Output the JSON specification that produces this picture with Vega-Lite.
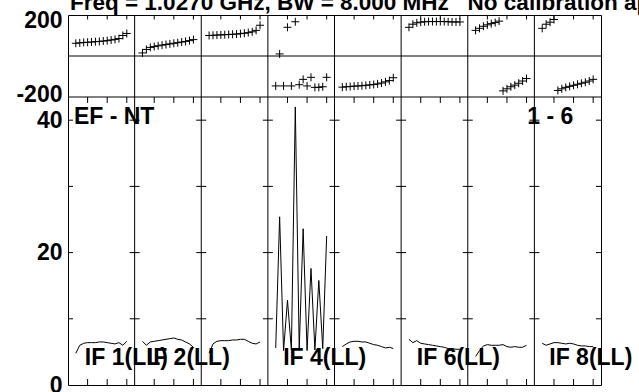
{
  "$schema": "https://vega.github.io/schema/vega-lite/v6.json",
  "width": 533,
  "height": 370,
  "autosize": {"type": "none"},
  "padding": {"left": 68, "top": 15, "right": 38, "bottom": 7},
  "background": "white",
  "config": {
    "view": {"stroke": "black", "strokeWidth": 1},
    "font": "Liberation Sans"
  },
  "datasets": {
    "main": [
      {"i":1,"x":2,"p":62,"a":4.8},{"i":1,"x":3,"p":64,"a":6.0},{"i":1,"x":4,"p":66,"a":6.3},{"i":1,"x":5,"p":67,"a":6.4},{"i":1,"x":6,"p":68,"a":6.4},{"i":1,"x":7,"p":70,"a":6.4},{"i":1,"x":8,"p":71,"a":6.5},{"i":1,"x":9,"p":73,"a":6.5},{"i":1,"x":10,"p":75,"a":6.4},{"i":1,"x":11,"p":78,"a":6.3},{"i":1,"x":12,"p":81,"a":6.2},{"i":1,"x":13,"p":85,"a":6.4},{"i":1,"x":14,"p":100,"a":6.0},{"i":1,"x":15,"p":110,"a":6.6},
      {"i":2,"x":19,"p":15,"a":6.6},{"i":2,"x":20,"p":32,"a":6.0},{"i":2,"x":21,"p":42,"a":6.5},{"i":2,"x":22,"p":46,"a":6.6},{"i":2,"x":23,"p":50,"a":6.7},{"i":2,"x":24,"p":53,"a":6.8},{"i":2,"x":25,"p":56,"a":6.9},{"i":2,"x":26,"p":59,"a":7.0},{"i":2,"x":27,"p":62,"a":7.1},{"i":2,"x":28,"p":65,"a":6.9},{"i":2,"x":29,"p":68,"a":6.8},{"i":2,"x":30,"p":71,"a":6.5},{"i":2,"x":31,"p":75,"a":6.2},{"i":2,"x":32,"p":80,"a":5.7},
      {"i":3,"x":36,"p":100,"a":4.8},{"i":3,"x":37,"p":101,"a":6.2},{"i":3,"x":38,"p":102,"a":6.6},{"i":3,"x":39,"p":103,"a":6.7},{"i":3,"x":40,"p":104,"a":6.7},{"i":3,"x":41,"p":105,"a":6.7},{"i":3,"x":42,"p":106,"a":6.8},{"i":3,"x":43,"p":107,"a":6.8},{"i":3,"x":44,"p":109,"a":6.9},{"i":3,"x":45,"p":111,"a":6.9},{"i":3,"x":46,"p":114,"a":6.6},{"i":3,"x":47,"p":118,"a":6.3},{"i":3,"x":48,"p":125,"a":6.2},{"i":3,"x":49,"p":150,"a":6.5},
      {"i":4,"x":53,"p":-146,"a":5.6},{"i":4,"x":54,"p":10,"a":25.4},{"i":4,"x":55,"p":-146,"a":5.2},{"i":4,"x":56,"p":140,"a":12.8},{"i":4,"x":57,"p":-146,"a":5.3},{"i":4,"x":58,"p":167,"a":42.0},{"i":4,"x":59,"p":-140,"a":5.4},{"i":4,"x":60,"p":-114,"a":23.6},{"i":4,"x":61,"p":-146,"a":5.2},{"i":4,"x":62,"p":-104,"a":17.6},{"i":4,"x":63,"p":-153,"a":5.3},{"i":4,"x":64,"p":-153,"a":15.8},{"i":4,"x":65,"p":-150,"a":5.5},{"i":4,"x":66,"p":-104,"a":22.5},
      {"i":5,"x":70,"p":-152,"a":5.8},{"i":5,"x":71,"p":-150,"a":6.2},{"i":5,"x":72,"p":-149,"a":6.5},{"i":5,"x":73,"p":-147,"a":6.6},{"i":5,"x":74,"p":-146,"a":6.6},{"i":5,"x":75,"p":-145,"a":6.5},{"i":5,"x":76,"p":-143,"a":6.5},{"i":5,"x":77,"p":-141,"a":6.3},{"i":5,"x":78,"p":-139,"a":6.1},{"i":5,"x":79,"p":-136,"a":6.0},{"i":5,"x":80,"p":-132,"a":5.8},{"i":5,"x":81,"p":-126,"a":5.6},{"i":5,"x":82,"p":-120,"a":5.7},{"i":5,"x":83,"p":-106,"a":5.5},
      {"i":6,"x":87,"p":140,"a":6.9},{"i":6,"x":88,"p":155,"a":6.4},{"i":6,"x":89,"p":162,"a":6.7},{"i":6,"x":90,"p":165,"a":6.3},{"i":6,"x":91,"p":167,"a":6.2},{"i":6,"x":92,"p":168,"a":6.1},{"i":6,"x":93,"p":168,"a":6.0},{"i":6,"x":94,"p":168,"a":5.9},{"i":6,"x":95,"p":168,"a":5.8},{"i":6,"x":96,"p":168,"a":5.7},{"i":6,"x":97,"p":167,"a":5.5},{"i":6,"x":98,"p":166,"a":5.5},{"i":6,"x":99,"p":166,"a":5.4},{"i":6,"x":100,"p":166,"a":5.4},
      {"i":7,"x":104,"p":125,"a":4.3},{"i":7,"x":105,"p":135,"a":5.2},{"i":7,"x":106,"p":145,"a":5.9},{"i":7,"x":107,"p":152,"a":6.1},{"i":7,"x":108,"p":158,"a":6.0},{"i":7,"x":109,"p":163,"a":6.0},{"i":7,"x":110,"p":170,"a":6.0},{"i":7,"x":111,"p":-170,"a":6.1},{"i":7,"x":112,"p":-160,"a":5.8},{"i":7,"x":113,"p":-150,"a":5.7},{"i":7,"x":114,"p":-142,"a":5.8},{"i":7,"x":115,"p":-133,"a":5.7},{"i":7,"x":116,"p":-122,"a":5.7},{"i":7,"x":117,"p":-110,"a":6.0},
      {"i":8,"x":121,"p":135,"a":6.3},{"i":8,"x":122,"p":155,"a":6.0},{"i":8,"x":123,"p":165,"a":6.2},{"i":8,"x":124,"p":178,"a":6.4},{"i":8,"x":125,"p":-168,"a":6.4},{"i":8,"x":126,"p":-160,"a":6.3},{"i":8,"x":127,"p":-153,"a":6.2},{"i":8,"x":128,"p":-148,"a":6.3},{"i":8,"x":129,"p":-143,"a":6.2},{"i":8,"x":130,"p":-138,"a":6.0},{"i":8,"x":131,"p":-133,"a":5.9},{"i":8,"x":132,"p":-128,"a":5.9},{"i":8,"x":133,"p":-122,"a":5.8},{"i":8,"x":134,"p":-114,"a":5.8}
    ],
    "bounds": [{"x":17},{"x":34},{"x":51},{"x":68},{"x":85},{"x":102},{"x":119}],
    "cross": [
      {"x":0,"a":[10,20,30,40]},{"x":17,"a":[10,20,30,40]},{"x":34,"a":[10,20,30,40]},{"x":51,"a":[10,20,30,40]},{"x":68,"a":[10,20,30,40]},
      {"x":85,"a":[10,20,30,40]},{"x":102,"a":[10,20,30,40]},{"x":119,"a":[10,20,30,40]},{"x":136,"a":[10,20,30,40]}
    ],
    "xt": [
      {"x":5},{"x":10},{"x":15},{"x":22},{"x":27},{"x":32},{"x":39},{"x":44},{"x":49},{"x":56},{"x":61},{"x":66},
      {"x":73},{"x":78},{"x":83},{"x":90},{"x":95},{"x":100},{"x":107},{"x":112},{"x":117},{"x":124},{"x":129},{"x":134}
    ],
    "labels": [
      {"t":"EF - NT","x":1.5,"a":39.4},
      {"t":"1 - 6","x":117.2,"a":39.4},
      {"t":"IF 1(LL)","x":4.3,"a":3.0},
      {"t":"IF 2(LL)","x":20.1,"a":3.0},
      {"t":"IF 4(LL)","x":54.9,"a":3.0},
      {"t":"IF 6(LL)","x":89.0,"a":3.0},
      {"t":"IF 8(LL)","x":122.8,"a":3.0}
    ],
    "heading": [
      {"t":"Freq = 1.0270 GHz, BW = 8.000 MHz\u00a0\u00a0\u00a0No calibration applied","x":0.5,"p":226.8}
    ]
  },
  "layer": [
    {
      "layer": [
        {
          "data": {"name": "main"},
          "mark": {"type": "point", "shape": "M-1,0L1,0M0,-1L0,1", "size": 64, "filled": false, "color": "black", "strokeWidth": 1, "opacity": 1},
          "encoding": {
            "x": {"field": "x", "type": "quantitative", "scale": {"domain": [0, 136], "nice": false, "zero": false}, "axis": null},
            "y": {"field": "p", "type": "quantitative", "scale": {"domain": [-200, 200], "range": [82, 0], "nice": false, "zero": false},
              "axis": {"orient": "left", "values": [-200, 200], "title": null, "ticks": false, "domain": false, "grid": false,
                "labelExpr": "'' + datum.value",
                "labelFont": "Liberation Sans", "labelFontSize": 23, "labelFontWeight": "bold", "labelColor": "black", "labelPadding": 6,
                "labelOffset": {"condition": {"test": "datum.value === 200", "value": 5}, "value": -3}}}
          }
        },
        {
          "data": {"values": [{"p": -200}, {"p": 0}]},
          "mark": {"type": "rule", "color": "black", "strokeWidth": 1},
          "encoding": {"y": {"field": "p", "type": "quantitative"}}
        },
        {
          "data": {"name": "xt"},
          "mark": {"type": "rule", "color": "black", "strokeWidth": 1},
          "encoding": {
            "x": {"field": "x", "type": "quantitative"},
            "y": {"datum": 200},
            "y2": {"datum": 178}
          }
        },
        {
          "data": {"name": "heading"},
          "mark": {"type": "text", "align": "left", "baseline": "alphabetic", "font": "Liberation Sans", "fontSize": 22.5, "fontWeight": "bold", "color": "black"},
          "encoding": {
            "x": {"field": "x", "type": "quantitative"},
            "y": {"field": "p", "type": "quantitative"},
            "text": {"field": "t"}
          }
        }
      ]
    },
    {
      "layer": [
        {
          "data": {"name": "main"},
          "mark": {"type": "line", "color": "black", "strokeWidth": 1},
          "encoding": {
            "x": {"field": "x", "type": "quantitative"},
            "y": {"field": "a", "type": "quantitative", "scale": {"domain": [0, 43.5], "range": [370, 82], "nice": false, "zero": false},
              "axis": {"orient": "left", "values": [0, 20, 40], "title": null, "ticks": false, "domain": false, "grid": false,
                "labelFont": "Liberation Sans", "labelFontSize": 23, "labelFontWeight": "bold", "labelColor": "black", "labelPadding": 6}},
            "detail": {"field": "i", "type": "nominal"}
          }
        },
        {
          "data": {"name": "bounds"},
          "mark": {"type": "rule", "color": "black", "strokeWidth": 1},
          "encoding": {"x": {"field": "x", "type": "quantitative"}}
        },
        {
          "data": {"name": "cross"},
          "transform": [{"flatten": ["a"]}],
          "mark": {"type": "tick", "orient": "horizontal", "size": 10, "thickness": 1, "color": "black", "opacity": 1, "clip": true},
          "encoding": {
            "x": {"field": "x", "type": "quantitative"},
            "y": {"field": "a", "type": "quantitative"}
          }
        },
        {
          "data": {"name": "xt"},
          "mark": {"type": "rule", "color": "black", "strokeWidth": 1},
          "encoding": {
            "x": {"field": "x", "type": "quantitative"},
            "y": {"datum": 0},
            "y2": {"datum": 0.9}
          }
        },
        {
          "data": {"name": "xt"},
          "mark": {"type": "rule", "color": "black", "strokeWidth": 1},
          "encoding": {
            "x": {"field": "x", "type": "quantitative"},
            "y": {"datum": 43.5},
            "y2": {"datum": 42.6}
          }
        },
        {
          "data": {"name": "labels"},
          "mark": {"type": "text", "align": "left", "baseline": "alphabetic", "font": "Liberation Sans", "fontSize": 23, "fontWeight": "bold", "color": "black"},
          "encoding": {
            "x": {"field": "x", "type": "quantitative"},
            "y": {"field": "a", "type": "quantitative"},
            "text": {"field": "t"}
          }
        }
      ]
    }
  ],
  "resolve": {"scale": {"y": "independent"}, "axis": {"y": "independent"}}
}
